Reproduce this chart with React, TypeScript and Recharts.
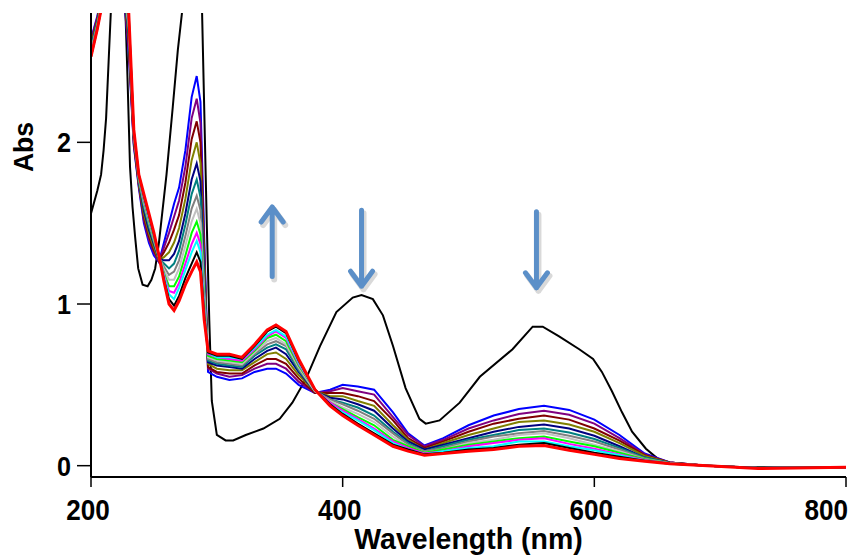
import React from "react";
import { LineChart, Line, XAxis, YAxis, ReferenceLine } from "recharts";

// wavelength grid (nm) shared by the titration spectra
const wavelengths = [
  200, 205, 210, 225, 230, 234, 238, 242, 246, 250, 254, 258, 262, 266, 270, 275, 280, 284, 287, 290,
  293, 300, 310, 320, 330, 340, 347, 355, 365, 378, 390, 400, 412, 425, 440, 452, 465, 480, 500, 520,
  540, 560, 580, 600, 620, 640, 660, 690, 730, 800,
];

// spectra from first (blue) to last (red) addition
const absBlue = [2.64, 2.78, 2.96, 3.0, 2.55, 1.98, 1.72, 1.50, 1.38, 1.30, 1.26, 1.38, 1.50, 1.62, 1.72, 1.95, 2.28, 2.41, 2.25, 1.40, 0.58, 0.55, 0.53, 0.54, 0.58, 0.60, 0.60, 0.57, 0.50, 0.45, 0.47, 0.50, 0.49, 0.47, 0.33, 0.20, 0.125, 0.17, 0.25, 0.31, 0.35, 0.37, 0.345, 0.285, 0.19, 0.075, 0.02, 0, -0.015, -0.01];
const absPurple = [2.63, 2.77, 2.95, 3.0, 2.58, 1.99, 1.73, 1.52, 1.40, 1.32, 1.26, 1.35, 1.44, 1.54, 1.64, 1.85, 2.15, 2.27, 2.12, 1.34, 0.60, 0.57, 0.55, 0.56, 0.60, 0.63, 0.63, 0.60, 0.52, 0.45, 0.46, 0.48, 0.46, 0.44, 0.30, 0.19, 0.12, 0.16, 0.23, 0.28, 0.32, 0.34, 0.315, 0.26, 0.17, 0.07, 0.02, 0, -0.015, -0.01];
const absMaroon = [2.61, 2.76, 2.95, 3.0, 2.61, 2.00, 1.74, 1.54, 1.42, 1.33, 1.27, 1.32, 1.38, 1.46, 1.55, 1.75, 2.02, 2.13, 2.00, 1.28, 0.61, 0.58, 0.57, 0.57, 0.62, 0.66, 0.66, 0.63, 0.54, 0.45, 0.45, 0.45, 0.43, 0.40, 0.28, 0.17, 0.11, 0.15, 0.21, 0.26, 0.29, 0.31, 0.285, 0.23, 0.155, 0.065, 0.02, 0, -0.015, -0.01];
const absOlive = [2.60, 2.75, 2.94, 3.0, 2.64, 2.02, 1.75, 1.56, 1.44, 1.35, 1.27, 1.29, 1.32, 1.38, 1.47, 1.65, 1.89, 2.00, 1.87, 1.22, 0.63, 0.60, 0.59, 0.59, 0.64, 0.69, 0.70, 0.66, 0.56, 0.46, 0.43, 0.43, 0.40, 0.37, 0.25, 0.16, 0.10, 0.14, 0.19, 0.23, 0.27, 0.28, 0.255, 0.21, 0.14, 0.06, 0.018, 0, -0.015, -0.01];
const absNavy = [2.59, 2.74, 2.94, 3.0, 2.67, 2.03, 1.76, 1.58, 1.46, 1.37, 1.28, 1.27, 1.27, 1.31, 1.39, 1.56, 1.77, 1.87, 1.76, 1.17, 0.64, 0.62, 0.61, 0.60, 0.66, 0.71, 0.73, 0.69, 0.58, 0.46, 0.42, 0.41, 0.38, 0.34, 0.23, 0.15, 0.10, 0.13, 0.17, 0.21, 0.24, 0.255, 0.23, 0.185, 0.12, 0.05, 0.017, 0, -0.015, -0.01];
const absTeal = [2.58, 2.74, 2.93, 3.0, 2.69, 2.04, 1.76, 1.60, 1.48, 1.38, 1.28, 1.25, 1.22, 1.25, 1.33, 1.49, 1.68, 1.77, 1.66, 1.12, 0.65, 0.63, 0.62, 0.61, 0.68, 0.73, 0.75, 0.72, 0.59, 0.46, 0.41, 0.39, 0.36, 0.31, 0.21, 0.14, 0.09, 0.12, 0.16, 0.19, 0.22, 0.23, 0.205, 0.165, 0.11, 0.05, 0.016, 0, -0.015, -0.01];
const absGray = [2.57, 2.73, 2.93, 3.0, 2.71, 2.04, 1.77, 1.62, 1.50, 1.39, 1.29, 1.23, 1.18, 1.20, 1.27, 1.42, 1.59, 1.67, 1.58, 1.08, 0.66, 0.64, 0.63, 0.62, 0.69, 0.75, 0.77, 0.74, 0.60, 0.46, 0.41, 0.38, 0.34, 0.29, 0.20, 0.13, 0.09, 0.11, 0.15, 0.18, 0.20, 0.215, 0.185, 0.15, 0.10, 0.045, 0.015, 0, -0.015, -0.01];
const absSilver = [2.56, 2.72, 2.92, 3.0, 2.73, 2.05, 1.78, 1.63, 1.51, 1.40, 1.29, 1.21, 1.15, 1.15, 1.22, 1.36, 1.51, 1.59, 1.50, 1.05, 0.67, 0.65, 0.64, 0.63, 0.70, 0.77, 0.79, 0.75, 0.61, 0.46, 0.40, 0.36, 0.32, 0.27, 0.18, 0.12, 0.08, 0.10, 0.14, 0.16, 0.19, 0.20, 0.17, 0.13, 0.09, 0.04, 0.015, 0, -0.015, -0.01];
const absLime = [2.55, 2.72, 2.92, 3.0, 2.75, 2.06, 1.78, 1.64, 1.52, 1.41, 1.29, 1.19, 1.11, 1.11, 1.17, 1.30, 1.44, 1.51, 1.43, 1.01, 0.68, 0.66, 0.65, 0.64, 0.71, 0.79, 0.81, 0.77, 0.62, 0.47, 0.39, 0.35, 0.30, 0.25, 0.16, 0.12, 0.08, 0.10, 0.13, 0.15, 0.17, 0.18, 0.15, 0.12, 0.08, 0.04, 0.014, 0, -0.015, -0.01];
const absMagenta = [2.55, 2.71, 2.91, 3.0, 2.76, 2.06, 1.79, 1.65, 1.53, 1.42, 1.29, 1.18, 1.08, 1.07, 1.13, 1.25, 1.37, 1.44, 1.37, 0.98, 0.69, 0.67, 0.66, 0.65, 0.72, 0.80, 0.83, 0.79, 0.63, 0.47, 0.39, 0.34, 0.29, 0.23, 0.15, 0.11, 0.075, 0.09, 0.12, 0.14, 0.16, 0.17, 0.135, 0.105, 0.07, 0.035, 0.013, 0, -0.015, -0.01];
const absCyan = [2.54, 2.71, 2.91, 3.0, 2.77, 2.07, 1.79, 1.66, 1.54, 1.42, 1.30, 1.17, 1.06, 1.03, 1.10, 1.21, 1.32, 1.39, 1.32, 0.96, 0.70, 0.67, 0.67, 0.66, 0.73, 0.81, 0.84, 0.80, 0.64, 0.47, 0.38, 0.33, 0.28, 0.22, 0.14, 0.10, 0.07, 0.09, 0.11, 0.12, 0.15, 0.15, 0.12, 0.095, 0.065, 0.03, 0.013, 0, -0.015, -0.01];
const absDark = [2.53, 2.70, 2.90, 3.0, 2.79, 2.07, 1.80, 1.67, 1.55, 1.43, 1.30, 1.15, 1.03, 0.99, 1.05, 1.16, 1.25, 1.32, 1.26, 0.93, 0.70, 0.68, 0.68, 0.66, 0.74, 0.83, 0.86, 0.82, 0.65, 0.47, 0.38, 0.32, 0.26, 0.20, 0.13, 0.10, 0.07, 0.08, 0.10, 0.11, 0.13, 0.14, 0.11, 0.08, 0.055, 0.03, 0.012, 0, -0.015, -0.01];
const absRed = [2.53, 2.70, 2.90, 3.0, 2.80, 2.08, 1.80, 1.68, 1.56, 1.44, 1.30, 1.14, 1.00, 0.96, 1.02, 1.12, 1.20, 1.26, 1.20, 0.90, 0.71, 0.69, 0.69, 0.67, 0.75, 0.84, 0.87, 0.83, 0.66, 0.47, 0.37, 0.31, 0.25, 0.19, 0.12, 0.09, 0.065, 0.075, 0.09, 0.10, 0.12, 0.125, 0.095, 0.07, 0.045, 0.027, 0.012, 0, -0.018, -0.01];

// starting compound (black)
const initialWl = [
  200, 205, 208, 210, 212, 214, 216, 218, 224, 227, 229, 231, 233, 235, 237.5, 241, 245, 248, 251, 254,
  256, 260, 265, 269, 273, 276, 285, 288, 290, 292, 294, 296, 300, 307, 313, 323, 337, 350, 360, 371,
  382, 395, 408, 415, 424, 432, 440, 450, 461, 466, 477, 493, 509, 535, 551, 559, 572, 588, 599, 606,
  614, 622, 630, 641, 652, 660, 680, 720, 800,
];
const initialAbs = [
  1.56, 1.70, 1.80, 1.95, 2.15, 2.5, 2.85, 3.1, 3.2, 2.9, 2.4, 1.85, 1.6, 1.42, 1.22, 1.12, 1.11, 1.15, 1.22, 1.38,
  1.52, 1.80, 2.22, 2.57, 2.85, 3.1, 3.2, 2.9, 2.2, 1.5, 0.9, 0.4, 0.19, 0.156, 0.156, 0.19, 0.23, 0.29, 0.39, 0.54,
  0.74, 0.95, 1.04, 1.056, 1.03, 0.93, 0.74, 0.48, 0.29, 0.26, 0.28, 0.39, 0.55, 0.72, 0.86, 0.86, 0.80, 0.72, 0.66, 0.58,
  0.46, 0.33, 0.21, 0.105, 0.033, 0.02, 0.005, -0.01, -0.01,
];

const series = [
  { key: "blue", color: "#0000FF", values: absBlue },
  { key: "purple", color: "#800080", values: absPurple },
  { key: "maroon", color: "#800000", values: absMaroon },
  { key: "olive", color: "#808000", values: absOlive },
  { key: "navy", color: "#000080", values: absNavy },
  { key: "teal", color: "#008080", values: absTeal },
  { key: "gray", color: "#808080", values: absGray },
  { key: "silver", color: "#C0C0C0", values: absSilver },
  { key: "lime", color: "#00FF00", values: absLime },
  { key: "magenta", color: "#FF00FF", values: absMagenta },
  { key: "cyan", color: "#00FFFF", values: absCyan },
  { key: "dark", color: "#000000", values: absDark },
  { key: "red", color: "#FF0000", values: absRed },
];

// arrows: wavelength, start abs, tip abs
const arrows = [
  { wl: 344, from: 1.17, to: 1.6 },
  { wl: 415, from: 1.58, to: 1.11 },
  { wl: 554, from: 1.57, to: 1.1 },
];

const xTicks = [200, 400, 600, 800];
const yTicks = [0, 1, 2];

const FONT = "'Liberation Sans', Arial, sans-serif";
const ARROW_COLOR = "#5B8FC8";
const SQUEEZE = 0.9;

const XTick = (props: any) => {
  const { x, y, payload } = props;
  // last label is pulled inside the frame, like the original plot
  const last = x > 840;
  return (
    <g transform={`translate(${last ? x + 2 : x - 3},${y}) scale(${SQUEEZE},1)`}>
      <text x={0} y={0} dy="0.71em" textAnchor={last ? "end" : "middle"} fontSize={29} fontWeight={700} fontFamily={FONT} fill="#000">
        {payload.value}
      </text>
    </g>
  );
};

const YTick = (props: any) => {
  const { x, y, payload } = props;
  return (
    <g transform={`translate(${x},${y}) scale(${SQUEEZE},1)`}>
      <text x={0} y={0} dy="0.355em" textAnchor="end" fontSize={28} fontWeight={700} fontFamily={FONT} fill="#000">
        {payload.value}
      </text>
    </g>
  );
};

const ArrowShape = (props: any) => {
  const { x1, y1, x2, y2 } = props;
  if ([x1, y1, x2, y2].some((v) => v == null || isNaN(v))) return null;
  const dir = y2 < y1 ? 1 : -1; // 1 = pointing up
  const d = `M${x1},${y1} L${x2},${y2} M${x2 - 11},${y2 + dir * 15} L${x2},${y2} L${x2 + 11},${y2 + dir * 15}`;
  return (
    <g>
      <path d={d} transform="translate(2,3)" stroke="#000" strokeOpacity={0.15} strokeWidth={6} fill="none" strokeLinecap="round" strokeLinejoin="round" />
      <path d={d} stroke={ARROW_COLOR} strokeWidth={5} fill="none" strokeLinecap="round" strokeLinejoin="round" />
    </g>
  );
};

export default function App() {
  const initialData = initialWl.map((wl, i) => ({ wl, abs: initialAbs[i] }));
  return (
    <div style={{ position: "absolute", left: 0, top: 0, background: "#fff" }}>
      <LineChart width={867} height={556} margin={{ top: 13, right: 21, left: 0, bottom: 0 }}>
        <XAxis
          type="number"
          dataKey="wl"
          domain={[200, 800]}
          ticks={xTicks}
          allowDataOverflow
          height={79}
          stroke="#000"
          tickSize={10}
          tickMargin={12}
          tick={<XTick />}
          axisLine={{ stroke: "#000", strokeWidth: 2 }}
          tickLine={{ stroke: "#000", strokeWidth: 1.5 }}
          label={{
            content: ({ viewBox }: any) => {
              const cx = viewBox.x + viewBox.width / 2;
              const cy = viewBox.y + 72;
              return (
                <g transform={`translate(${cx},${cy}) scale(0.95,1)`}>
                  <text x={0} y={0} textAnchor="middle" fontSize={30} fontWeight={700} fontFamily={FONT} fill="#000">
                    Wavelength (nm)
                  </text>
                </g>
              );
            },
          }}
        />
        <YAxis
          type="number"
          domain={[-0.07, 2.8]}
          ticks={yTicks}
          allowDataOverflow
          width={91}
          stroke="#000"
          tickSize={14}
          tickMargin={6}
          tick={<YTick />}
          axisLine={{ stroke: "#000", strokeWidth: 2 }}
          tickLine={{ stroke: "#000", strokeWidth: 1.5 }}
          label={{
            content: ({ viewBox }: any) => {
              const cx = viewBox.x + 23;
              const cy = viewBox.y + 134;
              return (
                <g transform={`translate(${cx},${cy}) rotate(-90) scale(0.95,1)`}>
                  <text x={0} y={0} textAnchor="middle" dominantBaseline="central" fontSize={28} fontWeight={700} fontFamily={FONT} fill="#000">
                    Abs
                  </text>
                </g>
              );
            },
          }}
        />
        <Line
          data={initialData}
          dataKey="abs"
          stroke="#000"
          strokeWidth={2}
          dot={false}
          type="linear"
          isAnimationActive={false}
        />
        {series.map((s) => (
          <Line
            key={s.key}
            data={wavelengths.map((wl, i) => ({ wl, abs: s.values[i] }))}
            dataKey="abs"
            stroke={s.color}
            strokeWidth={s.key === "red" ? 3 : 2}
            dot={false}
            type="linear"
            isAnimationActive={false}
          />
        ))}
        {arrows.map((a, i) => (
          <ReferenceLine
            key={i}
            segment={[
              { x: a.wl, y: a.from },
              { x: a.wl, y: a.to },
            ]}
            shape={ArrowShape}
          />
        ))}
      </LineChart>
    </div>
  );
}
